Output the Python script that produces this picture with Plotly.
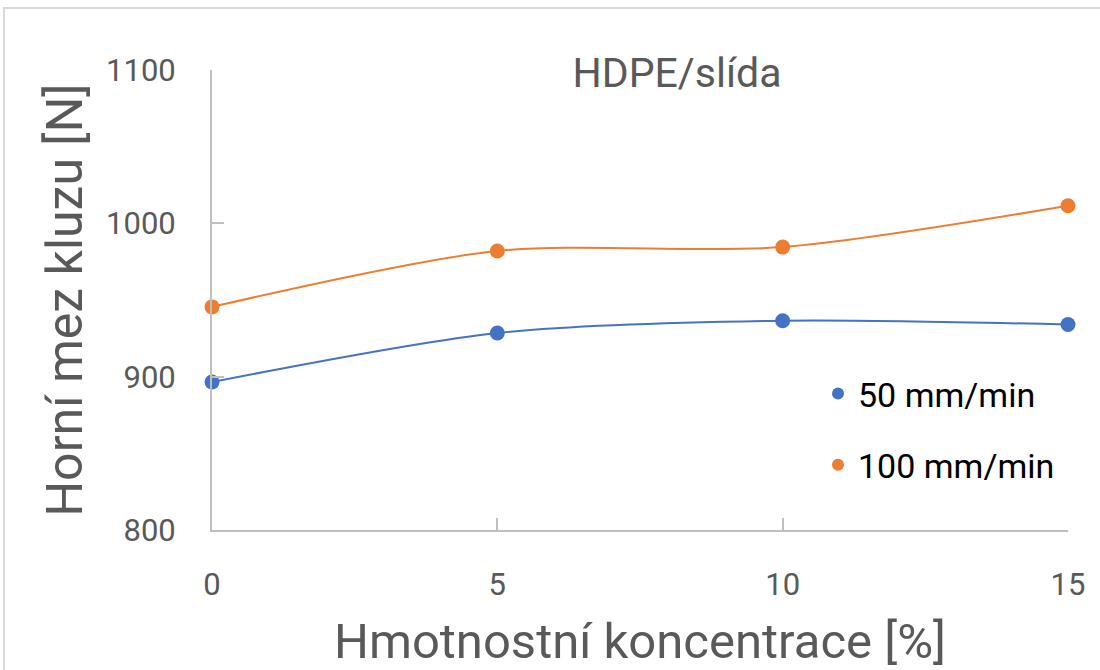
import plotly.graph_objects as go

concentration = [0, 5, 10, 15]
speed_50 = [896.5, 928.5, 936.5, 934.0]
speed_100 = [945.5, 982.0, 984.5, 1011.5]
series_names = ["50 mm/min", "100 mm/min"]
y_ticks = [800, 900, 1000, 1100]
x_ticks = [0, 5, 10, 15]

BLUE = "#4472C4"
ORANGE = "#ED7D31"
AXIS = "#BFBFBF"
TEXT = "#595959"
FONT = "Roboto"

fig = go.Figure()
for name, vals, col in [(series_names[0], speed_50, BLUE),
                        (series_names[1], speed_100, ORANGE)]:
    fig.add_trace(go.Scatter(
        x=concentration, y=vals, name=name, showlegend=False,
        mode="lines+markers",
        line=dict(color=col, width=2, shape="spline", smoothing=0.8),
        marker=dict(color=col, size=15),
        cliponaxis=False,
    ))
# legend entries (markers only, as in the reference legend)
for i, (name, col) in enumerate([(series_names[0], BLUE), (series_names[1], ORANGE)]):
    fig.add_trace(go.Scatter(
        x=[None], y=[None], name=name, legendgroup=str(i),
        mode="markers", marker=dict(color=col, size=12),
    ))

L, R, T, B = 212, 32, 70, 140
W, H = 1100, 670
pw, ph = W - L - R, H - T - B

fig.update_layout(
    width=W, height=H,
    margin=dict(l=L, r=R, t=T, b=B, autoexpand=False),
    paper_bgcolor="white", plot_bgcolor="white",
    font=dict(family=FONT, color=TEXT),
    title=dict(text="HDPE/slída", font=dict(size=41, color=TEXT, family=FONT),
               x=677 / W, xanchor="center", xref="container",
               y=1 - 73 / H, yanchor="middle", yref="container"),
    legend=dict(x=(818 - L) / pw, xanchor="left", y=(H - B - 365) / ph, yanchor="top",
                font=dict(size=34, color="black", family=FONT),
                bgcolor="rgba(0,0,0,0)", tracegroupgap=24, itemwidth=30),
    showlegend=True,
)

fig.update_xaxes(
    range=[0, 15], tickvals=x_ticks, ticktext=[str(v) for v in x_ticks],
    showgrid=False, zeroline=False, automargin=False,
    showline=True, linecolor=AXIS, linewidth=2,
    ticks="inside", ticklen=12, tickwidth=2, tickcolor=AXIS,
    tickfont=dict(size=31, color=TEXT, family=FONT),
    ticklabelstandoff=26,
    title=dict(text="Hmotnostní koncentrace [%]", font=dict(size=49, color=TEXT, family=FONT),
               standoff=22),
)
fig.update_yaxes(
    range=[800, 1100], tickvals=y_ticks, ticktext=[str(v) for v in y_ticks],
    showgrid=False, zeroline=False, automargin=False,
    showline=True, linecolor=AXIS, linewidth=2,
    ticks="inside", ticklen=12, tickwidth=2, tickcolor=AXIS,
    tickfont=dict(size=31, color=TEXT, family=FONT),
    ticklabelstandoff=28,
    title=dict(text="Horní mez kluzu [N]", font=dict(size=50, color=TEXT, family=FONT),
               standoff=8),
)

# outer chart-area border
fig.add_shape(type="rect", xref="paper", yref="paper",
              x0=(4 - L) / pw, x1=(W + 10 - L) / pw,
              y0=(H - B - (H + 10)) / ph, y1=(H - B - 8) / ph,
              line=dict(color="#D9D9D9", width=2), fillcolor="rgba(0,0,0,0)",
              layer="below")

fig.write_html("out.html")
